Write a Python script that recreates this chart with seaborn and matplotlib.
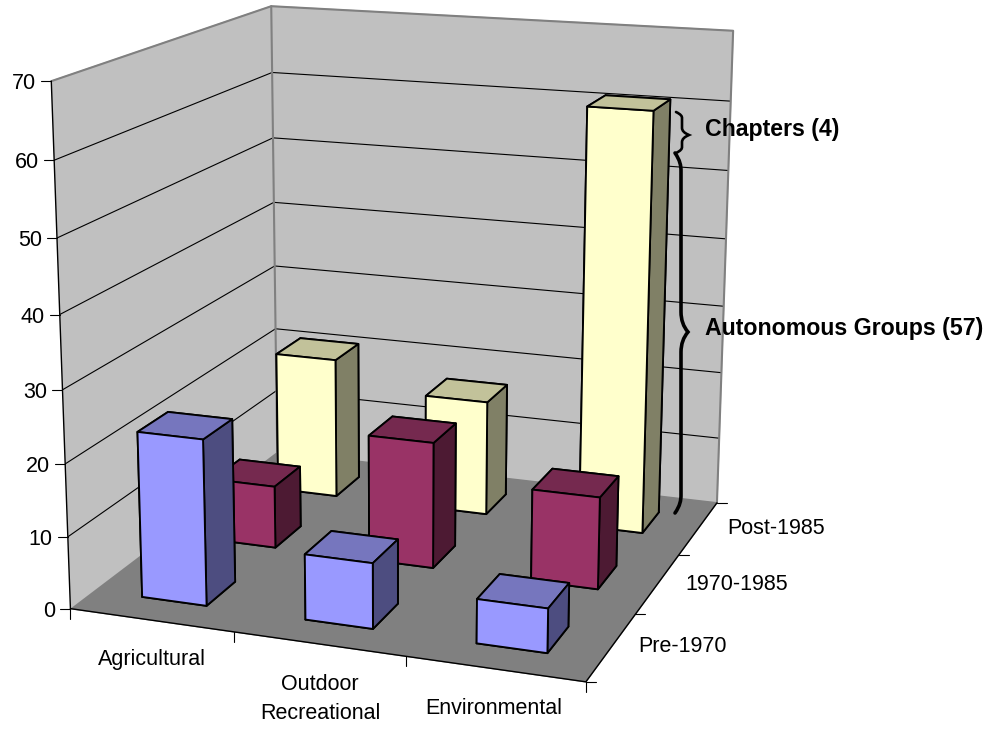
import numpy as np
import seaborn as sns
import matplotlib
matplotlib.use('Agg')
import matplotlib.pyplot as plt
from matplotlib.path import Path
from matplotlib.patches import PathPatch
from mpl_toolkits.mplot3d import proj3d

# values
categories = ['Agricultural', 'Outdoor\nRecreational', 'Environmental']
periods = ['Pre-1970', '1970-1985', 'Post-1985']
pre_1970 = [23, 9, 6]
mid_1985 = [9, 18, 13]
post_1985 = [21, 17, 61]
z_ticks = [0, 10, 20, 30, 40, 50, 60, 70]

sns.set_theme(style='white')
plt.rcParams['font.family'] = ['Liberation Sans', 'DejaVu Sans']
plt.rcParams['grid.color'] = 'black'
plt.rcParams['grid.linewidth'] = 0.8

# front, top, side of each series
front = sns.color_palette(['#9999FF', '#993366', '#FFFFCC'])
top = sns.color_palette(['#7676BE', '#75294F', '#C2C29A'])
side = sns.color_palette(['#4D4D80', '#4D1A33', '#808066'])

W, H = 997, 729
fig = plt.figure(figsize=(W / 100, H / 100), dpi=100)
ax = fig.add_subplot(projection='3d', computed_zorder=False)

ax.view_init(elev=14.9661, azim=-70.2325, roll=-0.0722)
ax.set_proj_type('persp', focal_length=np.exp(-0.6232))
ax.set_box_aspect((np.exp(0.0037), np.exp(0.0010), 1))

# walls and floor, gridlines only between the bottom and the top edge
ax.set_xticks([])
ax.set_yticks([])
ax.set_zticks(z_ticks[1:-1])
ax.set_zticklabels([])
ax.tick_params(axis='z', color=(0, 0, 0, 0))
ax.grid(True)
ax.xaxis.set_pane_color('#C0C0C0')
ax.yaxis.set_pane_color('#C0C0C0')
ax.zaxis.set_pane_color('#808080')
for axis in [ax.xaxis, ax.yaxis, ax.zaxis]:
    axis.line.set_color((0, 0, 0, 0))

# grey wall edges
ax.plot([0, 0, 3, 3], [0, 3, 3, 3], [70, 70, 70, 0], color='#808080', lw=1.5, zorder=2)
ax.plot([0, 0], [3, 3], [0, 70], color='#808080', lw=1.5, zorder=2)

# bars, back row first so the front ones cover them
rows = [pre_1970, mid_1985, post_1985]
zo = 5
for j in [2, 1, 0]:
    for i, v in enumerate(rows[j]):
        f, t, s = front[j], top[j], side[j]
        ax.bar3d(i + 0.3, j + 0.3, 0, 0.4, 0.4, v, color=[f, t, f, f, f, s],
                 shade=False, edgecolor='black', linewidth=1.35, zorder=zo)
        zo += 1

ax.plot([0, 3, 3], [0, 0, 3], [0, 0, 0], color='black', lw=1, zorder=3)
ax.plot([0, 0], [0, 0], [0, 70], color='black', lw=1, zorder=3)

ax.set_xlim(0, 3, view_margin=0)
ax.set_ylim(0, 3, view_margin=0)
ax.set_zlim(0, 70, view_margin=0)

# place the square axes so the projection lands where the chart has it
fig.canvas.draw()
scale, ox, oy = 4691.35, 412.77, H - 310.12
o = ax.transData.transform((0, 0))
e = ax.transData.transform((1, 1))
box = ax.get_position()
L0 = box.width * W
L = L0 * scale / (e[0] - o[0])
cx = (o[0] - box.x0 * W) / L0
cy = (o[1] - box.y0 * H) / L0
ax.set_position([(ox - cx * L) / W, (oy - cy * L) / H, L / W, L / H])
fig.canvas.draw()


def to_px(x, y, z):
    a, b, _ = proj3d.proj_transform(x, y, z, ax.get_proj())
    px, py = ax.transData.transform((a, b))
    return px, H - py


# labels, ticks and braces in picture pixels
over = fig.add_axes([0, 0, 1, 1], zorder=10)
over.set_xlim(0, W)
over.set_ylim(H, 0)
over.axis('off')

fs = 15.5
for v in z_ticks:
    px, py = to_px(0, 0, v)
    over.plot([px - 10, px], [py, py], color='black', lw=0.8)
    over.text(px - 15, py, str(v), ha='right', va='center_baseline', fontsize=fs, color='black')
for i in range(4):
    px, py = to_px(i, 0, 0)
    over.plot([px, px], [py, py + 10], color='black', lw=0.8)
for j in range(4):
    px, py = to_px(3, j, 0)
    over.plot([px, px + 10], [py, py], color='black', lw=0.8)

cat_pos = [(152, 660), (320, 699), (494, 709)]
for name, (x, y) in zip(categories, cat_pos):
    over.text(x, y, name, ha='center', va='center', fontsize=fs, color='black', linespacing=1.52)
per_pos = [(638, 647), (685, 585), (727, 529)]
for name, (x, y) in zip(periods, per_pos):
    over.text(x, y, name, ha='left', va='center', fontsize=fs, color='black')


def brace(x, y0, y1, ym, end, taper, lw):
    verts = [(x - 6, y0), (x - 1, y0 + end * 0.4), (x, y0 + end * 0.7), (x, y0 + end),
             (x, ym - taper), (x, ym - taper * 0.4), (x + 7, ym),
             (x, ym + taper * 0.4), (x, ym + taper),
             (x, y1 - end), (x, y1 - end * 0.7), (x - 1, y1 - end * 0.4), (x - 6, y1)]
    codes = [Path.MOVETO, Path.CURVE4, Path.CURVE4, Path.CURVE4,
             Path.LINETO, Path.CURVE3, Path.CURVE3,
             Path.CURVE3, Path.CURVE3,
             Path.LINETO, Path.CURVE4, Path.CURVE4, Path.CURVE4]
    over.add_patch(PathPatch(Path(verts, codes), fill=False, edgecolor='black', lw=lw,
                             capstyle='round', joinstyle='miter'))


brace(682, 112, 153, 135, 6, 7, 1.9)
brace(681, 153, 513, 332, 18, 20, 2.6)
over.text(705, 129, 'Chapters (4)', ha='left', va='center', fontsize=16.7, fontweight='bold', color='black')
over.text(705, 328, 'Autonomous Groups (57)', ha='left', va='center', fontsize=16.7, fontweight='bold', color='black')

fig.savefig('out.png', dpi=100)
